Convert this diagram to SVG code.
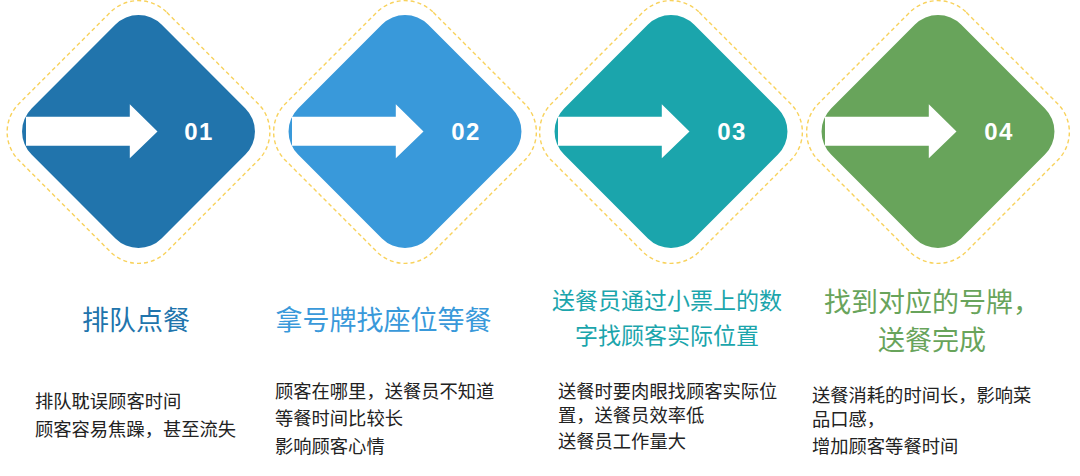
<svg xmlns="http://www.w3.org/2000/svg" xmlns:xlink="http://www.w3.org/1999/xlink" width="1080" height="476" viewBox="0 0 1080 476">
<style>
.halo{fill:none;stroke:#F8D25C;stroke-width:1.4;stroke-dasharray:4 3}
.num{font-family:"Liberation Sans",Arial,sans-serif;font-weight:bold;font-size:24px;fill:#fff;text-anchor:middle;letter-spacing:1.5px}
.title{font-family:"Noto Sans CJK SC","Microsoft YaHei",sans-serif;font-size:27px;text-anchor:middle}
.title3{font-size:23px}
.body{font-family:"Noto Sans CJK SC","Microsoft YaHei",sans-serif;font-size:18.3px;fill:#222}
.c1{fill:#2174AC}.c2{fill:#3999DA}.c3{fill:#1BA5AC}.c4{fill:#68A45B}
</style>
<defs>
<rect id="halo" x="-104.6" y="-104.6" width="209.2" height="209.2" rx="40" transform="rotate(45)"/>
<rect id="dia" x="-91.9" y="-91.9" width="183.8" height="183.8" rx="32.6" transform="rotate(45)"/>
<path id="arr" d="M-114,-14.8 H-10.2 V-27.2 L17.5,0 L-10.2,26.8 V14.2 H-114 Z" fill="#fff"/>
</defs>
<g id="connectors"/>
<g id="step1">
<use xlink:href="#halo" class="halo" transform="translate(138.5,132)"/>
<use xlink:href="#dia" class="c1" transform="translate(138.5,131.5)"/>
<use xlink:href="#arr" transform="translate(140,131.5)"/>
<text class="num" x="199" y="140">01</text>
<text class="title c1" x="136" y="330">排队点餐</text>
<text class="body" x="35" y="408">排队耽误顾客时间</text>
<text class="body" x="35" y="436">顾客容易焦躁，甚至流失</text>
</g>
<g id="step2">
<use xlink:href="#halo" class="halo" transform="translate(405,132)"/>
<use xlink:href="#dia" class="c2" transform="translate(405,131.5)"/>
<use xlink:href="#arr" transform="translate(406,131.5)"/>
<text class="num" x="466" y="140">02</text>
<text class="title c2" x="383.5" y="330">拿号牌找座位等餐</text>
<text class="body" x="275" y="398">顾客在哪里，送餐员不知道</text>
<text class="body" x="275" y="425">等餐时间比较长</text>
<text class="body" x="275" y="453">影响顾客心情</text>
</g>
<g id="step3">
<use xlink:href="#halo" class="halo" transform="translate(671,132)"/>
<use xlink:href="#dia" class="c3" transform="translate(671,131.5)"/>
<use xlink:href="#arr" transform="translate(672,131.5)"/>
<text class="num" x="732" y="140">03</text>
<text class="title title3 c3" x="667" y="309">送餐员通过小票上的数</text>
<text class="title title3 c3" x="667" y="344">字找顾客实际位置</text>
<text class="body" x="558" y="398">送餐时要肉眼找顾客实际位</text>
<text class="body" x="558" y="422">置，送餐员效率低</text>
<text class="body" x="558" y="448">送餐员工作量大</text>
</g>
<g id="step4">
<use xlink:href="#halo" class="halo" transform="translate(938,132)"/>
<use xlink:href="#dia" class="c4" transform="translate(938,131.5)"/>
<use xlink:href="#arr" transform="translate(939,131.5)"/>
<text class="num" x="999" y="140">04</text>
<text class="title c4" x="932" y="312">找到对应的号牌，</text>
<text class="title c4" x="932" y="350">送餐完成</text>
<text class="body" x="812" y="402">送餐消耗的时间长，影响菜</text>
<text class="body" x="812" y="426">品口感，</text>
<text class="body" x="812" y="453">增加顾客等餐时间</text>
</g>
</svg>
